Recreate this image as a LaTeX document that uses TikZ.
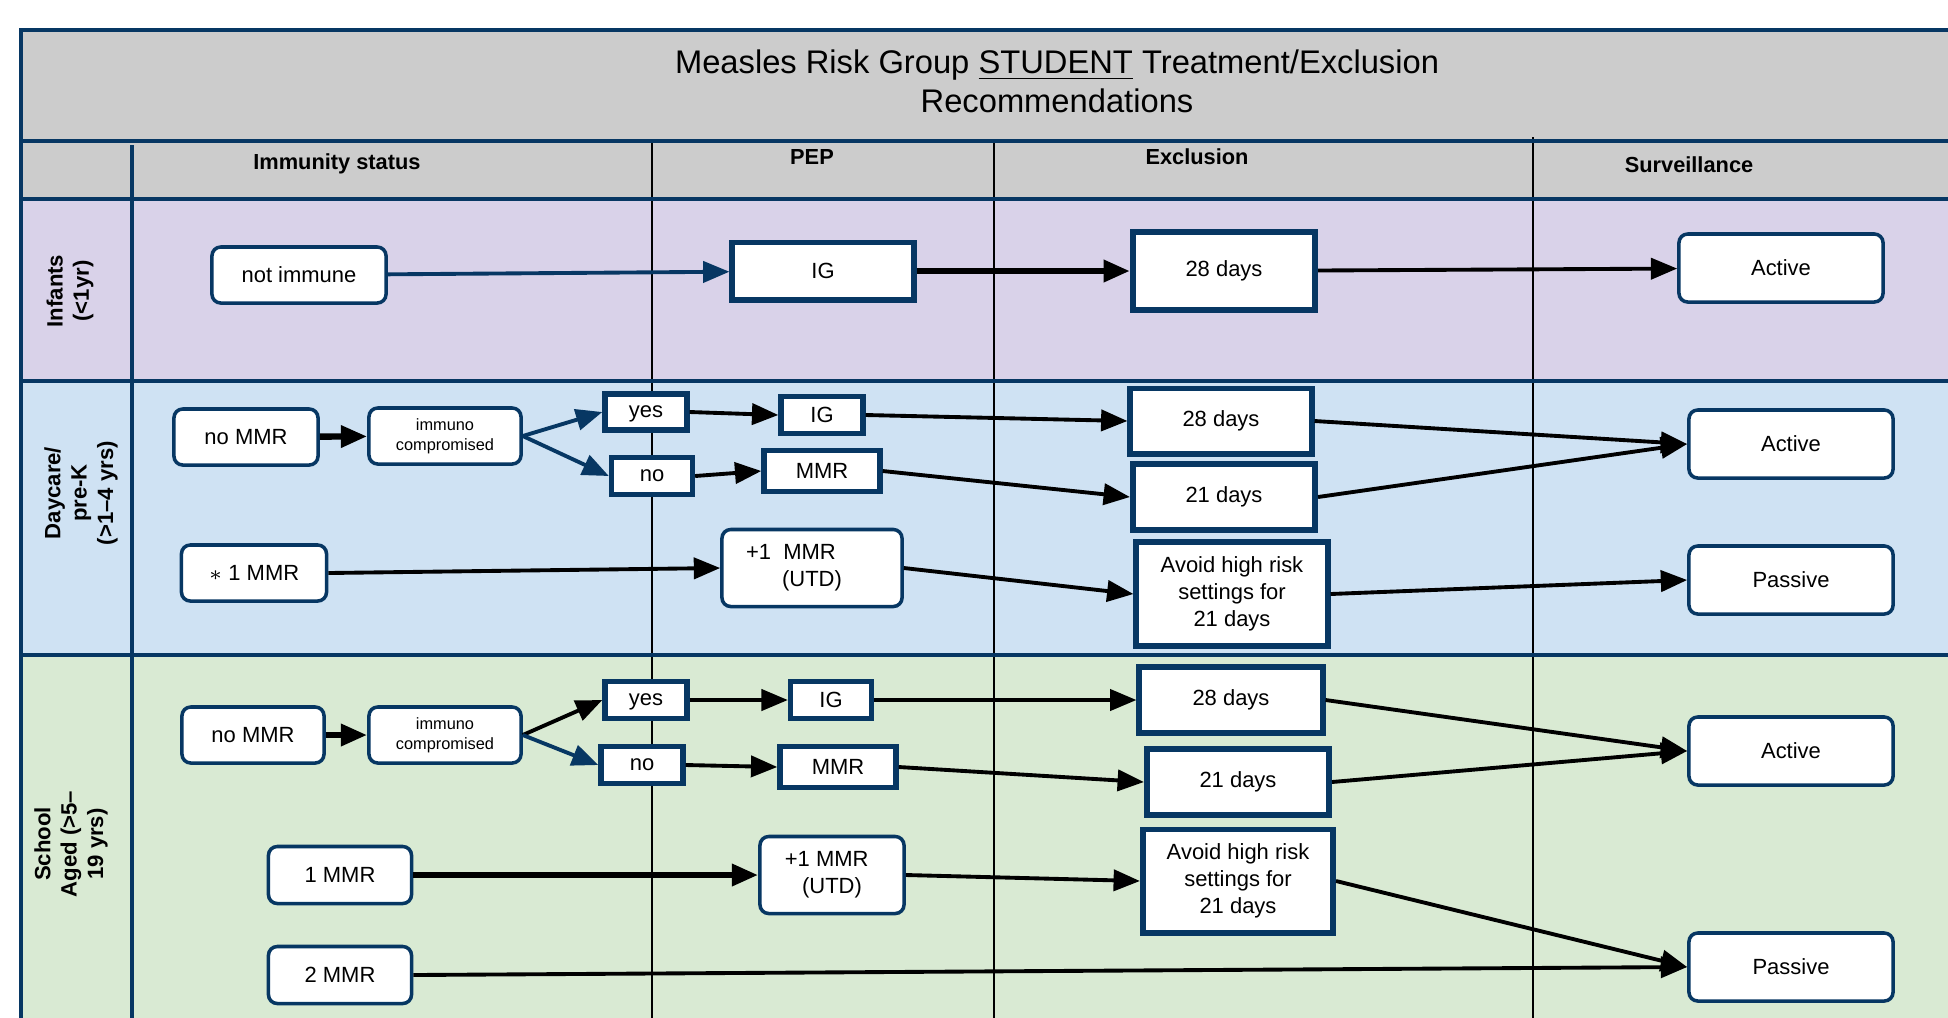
\documentclass[tikz,border=0pt]{standalone}
\usepackage{fontspec}
\setmainfont{Liberation Sans}
\usetikzlibrary{arrows.meta}
\definecolor{navy}{HTML}{073763}
\definecolor{hdrgray}{HTML}{CCCCCC}
\definecolor{lanepurple}{HTML}{D9D2E9}
\definecolor{laneblue}{HTML}{CFE2F3}
\definecolor{lanegreen}{HTML}{D9EAD3}

\begin{document}
\begin{tikzpicture}[x=0.01cm,y=-0.01cm,
  rbox/.style={draw=navy, line width=1pt, rounded corners=2.5pt, fill=white, inner sep=0pt, align=center, font=\fontsize{6.25}{7.6}\selectfont},
  sbox/.style={draw=navy, line width=1.7pt, fill=white, inner sep=0pt, align=center, font=\fontsize{6.25}{7.6}\selectfont},
  small/.style={font=\fontsize{4.65}{5.8}\selectfont},
  hdr/.style={font=\bfseries\fontsize{6.2}{7.4}\selectfont},
  lane/.style={rotate=90, align=center, font=\bfseries\fontsize{6.3}{7.5}\selectfont},
  arr/.style={-{Triangle[length=7.5pt,width=6pt]}, line width=1.1pt},
  barr/.style={arr, navy},
  tarr/.style={arr, line width=1.8pt}]
\useasboundingbox (0,0) rectangle (1948,1017);
\clip (0,0) rectangle (1948,1017);
% lanes
\fill[hdrgray] (21,30) rectangle (1960,199);
\fill[lanepurple] (21,199) rectangle (1960,381);
\fill[laneblue] (21,381) rectangle (1960,655);
\fill[lanegreen] (21,655) rectangle (1960,1030);
\draw[line width=0.6pt] (652,143) -- (652,1030);
\draw[line width=0.6pt] (994,143) -- (994,1030);
\draw[line width=0.6pt] (1533,137) -- (1533,1030);
\draw[navy, line width=0.9pt] (132,145) -- (132,1030);
\foreach \y in {30,141,199,381,655} \draw[navy, line width=1.4pt] (19,\y) -- (1960,\y);
\draw[navy, line width=1.4pt] (21,28) -- (21,1030);
% headings
\node[align=center, font=\fontsize{9.3}{11}\selectfont] (title) at (1057,81) {Measles Risk Group \underline{STUDENT} Treatment/Exclusion\\Recommendations};
\node[hdr] (himm) at (337,164) {Immunity status};
\node[hdr] (hpep) at (812,157) {PEP};
\node[hdr] (hexc) at (1197,157) {Exclusion};
\node[hdr] (hsur) at (1689,165) {Surveillance};
\node[lane] (linf) at (70,291) {Infants\\(<1yr)};
\node[lane] (lday) at (81,493) {Daycare/\\pre-K\\(>1--4 yrs)};
\node[lane] (lsch) at (71,844) {School\\Aged (>5--\\19 yrs)};
% infants
\node[rbox, minimum width=1.74cm, minimum height=0.56cm] (ni) at (299,275) {not immune};
\node[sbox, minimum width=1.81cm, minimum height=0.57cm] (iig) at (823,271) {IG};
\node[sbox, minimum width=1.82cm, minimum height=0.78cm] (i28) at (1224,271) {28 days};
\node[rbox, minimum width=2.04cm, minimum height=0.68cm] (iact) at (1781,268) {Active};
% daycare
\node[rbox, minimum width=1.44cm, minimum height=0.56cm] (dnomm) at (246,437) {no MMR};
\node[rbox, small, minimum width=1.52cm, minimum height=0.56cm] (dimm) at (445,436) {immuno\\compromised};
\node[sbox, line width=1.5pt, minimum width=0.82cm, minimum height=0.36cm, text depth=0pt] (dyes) at (646,412) {yes};
\node[sbox, line width=1.5pt, minimum width=0.81cm, minimum height=0.37cm] (dno) at (652,476) {no};
\node[sbox, line width=1.5pt, minimum width=0.82cm, minimum height=0.37cm] (dig) at (822,415) {IG};
\node[sbox, line width=1.5pt, minimum width=1.16cm, minimum height=0.41cm] (dmmr) at (822,471) {MMR};
\node[rbox, minimum width=1.45cm, minimum height=0.56cm] (d1mmr) at (254,573) {$\ast$ 1 MMR};
\node[rbox, minimum width=1.80cm, minimum height=0.77cm] (dutd) at (812,568) {+1~~MMR\hspace*{12pt}\\(UTD)};
\node[sbox, minimum width=1.81cm, minimum height=0.65cm] (d28) at (1221,421) {28 days};
\node[sbox, minimum width=1.82cm, minimum height=0.66cm] (d21) at (1224,497) {21 days};
\node[sbox, minimum width=1.91cm, minimum height=1.03cm] (davoid) at (1232,594) {Avoid high risk\\settings for\\21 days};
\node[rbox, minimum width=2.04cm, minimum height=0.68cm] (dact) at (1791,444) {Active};
\node[rbox, minimum width=2.04cm, minimum height=0.68cm] (dpas) at (1791,580) {Passive};
% school
\node[rbox, minimum width=1.42cm, minimum height=0.56cm] (snomm) at (253,735) {no MMR};
\node[rbox, small, minimum width=1.52cm, minimum height=0.56cm] (simm) at (445,735) {immuno\\compromised};
\node[sbox, line width=1.5pt, minimum width=0.82cm, minimum height=0.37cm, text depth=0pt] (syes) at (646,700) {yes};
\node[sbox, line width=1.5pt, minimum width=0.82cm, minimum height=0.37cm] (sno) at (642,765) {no};
\node[sbox, line width=1.5pt, minimum width=0.81cm, minimum height=0.37cm] (sig) at (831,700) {IG};
\node[sbox, line width=1.5pt, minimum width=1.16cm, minimum height=0.41cm] (smmr) at (838,767) {MMR};
\node[rbox, minimum width=1.43cm, minimum height=0.57cm] (s1mmr) at (340,875) {1 MMR};
\node[rbox, minimum width=1.44cm, minimum height=0.77cm] (sutd) at (832,875) {+1 MMR\hspace*{3pt}\\(UTD)};
\node[rbox, minimum width=1.43cm, minimum height=0.57cm] (s2mmr) at (340,975) {2 MMR};
\node[sbox, minimum width=1.83cm, minimum height=0.66cm] (s28) at (1231,700) {28 days};
\node[sbox, minimum width=1.82cm, minimum height=0.66cm] (s21) at (1238,782) {21 days};
\node[sbox, minimum width=1.90cm, minimum height=1.03cm] (savoid) at (1238,881) {Avoid high risk\\settings for\\21 days};
\node[rbox, minimum width=2.04cm, minimum height=0.68cm] (sact) at (1791,751) {Active};
\node[rbox, minimum width=2.04cm, minimum height=0.68cm] (spas) at (1791,967) {Passive};
% connectors
\draw[barr] (ni) -- (iig);
\draw[tarr] (iig) -- (i28);
\draw[arr] (i28) -- (iact);
\draw[tarr] (dnomm) -- (dimm);
\draw[barr] (dimm.east) -- (dyes.west);
\draw[barr] (dimm.east) -- (dno.west);
\draw[arr] (dyes.east) -- (dig.west);
\draw[arr] (dno.east) -- (dmmr.west);
\draw[arr] (dig.east) -- (d28.west);
\draw[arr] (dmmr.east) -- (d21.west);
\draw[arr] (d1mmr.east) -- (dutd.west);
\draw[arr] (dutd.east) -- (davoid.west);
\draw[arr] (d28.east) -- (dact.west);
\draw[arr] (d21.east) -- (dact.west);
\draw[arr] (davoid.east) -- (dpas.west);
\draw[tarr] (snomm) -- (simm);
\draw[arr] (simm.east) -- (syes.west);
\draw[barr] (simm.east) -- (sno.west);
\draw[arr] (syes.east) -- (sig.west);
\draw[arr] (sno.east) -- (smmr.west);
\draw[arr] (sig.east) -- (s28.west);
\draw[arr] (smmr.east) -- (s21.west);
\draw[tarr] (s1mmr.east) -- (sutd.west);
\draw[arr] (sutd.east) -- (savoid.west);
\draw[arr] (s2mmr.east) -- (spas.west);
\draw[arr] (s28.east) -- (sact.west);
\draw[arr] (s21.east) -- (sact.west);
\draw[arr] (savoid.east) -- (spas.west);
\end{tikzpicture}
\end{document}
